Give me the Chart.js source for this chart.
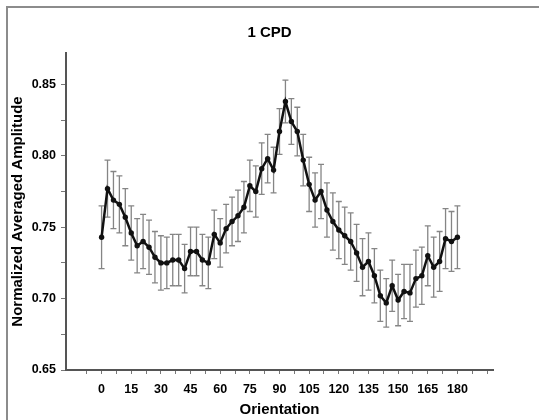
<!DOCTYPE html>
<html>
<head>
<meta charset="utf-8">
<script src="https://cdn.jsdelivr.net/npm/chart.js@4"></script>
<style>
    html, body { margin: 0; padding: 0; background: #fff; overflow: hidden; }
    #wrap { position: relative; width: 539px; height: 420px; }
    #frame { position: absolute; left: 6px; top: 6px; width: 600px; height: 500px; border: 2px solid #8c8c8c; box-sizing: border-box; }
    canvas { position: absolute; left: 0; top: 0; }
</style>
</head>
<body>
<div id="wrap">
    <div id="frame"></div>
    <canvas id="cpdChart" width="539" height="420"></canvas>
</div>
<script>
// orientation in degrees, 3 degree steps
const orientation = [0, 3, 6, 9, 12, 15, 18, 21, 24, 27, 30, 33, 36, 39, 42, 45, 48, 51, 54, 57,
    60, 63, 66, 69, 72, 75, 78, 81, 84, 87, 90, 93, 96, 99, 102, 105, 108, 111, 114, 117,
    120, 123, 126, 129, 132, 135, 138, 141, 144, 147, 150, 153, 156, 159, 162, 165, 168, 171, 174, 177, 180];

const amplitude = [0.743, 0.777, 0.769, 0.766, 0.757, 0.746, 0.737, 0.740, 0.736, 0.729,
    0.725, 0.725, 0.727, 0.727, 0.721, 0.733, 0.733, 0.727, 0.725, 0.745,
    0.739, 0.749, 0.754, 0.758, 0.764, 0.779, 0.775, 0.791, 0.798, 0.790,
    0.817, 0.838, 0.824, 0.817, 0.797, 0.780, 0.769, 0.775, 0.762, 0.754,
    0.748, 0.744, 0.740, 0.732, 0.722, 0.726, 0.716, 0.702, 0.697, 0.709,
    0.699, 0.705, 0.704, 0.714, 0.716, 0.730, 0.722, 0.726, 0.742, 0.740, 0.743];

// standard error for each point
const amplitudeErr = [0.022, 0.020, 0.020, 0.020, 0.020, 0.019, 0.019, 0.019, 0.019, 0.018,
    0.019, 0.018, 0.018, 0.018, 0.017, 0.017, 0.017, 0.018, 0.018, 0.017,
    0.017, 0.017, 0.017, 0.018, 0.018, 0.018, 0.018, 0.018, 0.017, 0.016,
    0.016, 0.015, 0.016, 0.017, 0.018, 0.019, 0.019, 0.019, 0.019, 0.020,
    0.020, 0.020, 0.020, 0.020, 0.020, 0.020, 0.019, 0.018, 0.017, 0.018,
    0.018, 0.019, 0.020, 0.020, 0.020, 0.021, 0.021, 0.021, 0.021, 0.021, 0.022];

const xTicks = [-7.5, 0, 7.5, 15, 22.5, 30, 37.5, 45, 52.5, 60, 67.5, 75, 82.5, 90, 97.5,
    105, 112.5, 120, 127.5, 135, 142.5, 150, 157.5, 165, 172.5, 180, 187.5, 195];
const xLabels = [0, 15, 30, 45, 60, 75, 90, 105, 120, 135, 150, 165, 180];
const yTicks = [0.65, 0.675, 0.70, 0.725, 0.75, 0.775, 0.80, 0.825, 0.85];
const yLabels = [0.65, 0.70, 0.75, 0.80, 0.85];

const FONT = "'Liberation Sans', Arial, sans-serif";
const AXIS = '#555';

// vertical error bars with caps, drawn under the line
const errorBars = {
    id: 'errorBars',
    beforeDatasetsDraw(chart) {
        const ctx = chart.ctx;
        const xs = chart.scales.x, ys = chart.scales.y;
        ctx.save();
        ctx.strokeStyle = '#858585';
        ctx.lineWidth = 1.3;
        orientation.forEach((o, i) => {
            const px = xs.getPixelForValue(o);
            const top = ys.getPixelForValue(amplitude[i] + amplitudeErr[i]);
            const bot = ys.getPixelForValue(amplitude[i] - amplitudeErr[i]);
            ctx.beginPath();
            ctx.moveTo(px, top); ctx.lineTo(px, bot);
            ctx.moveTo(px - 3, top); ctx.lineTo(px + 3, top);
            ctx.moveTo(px - 3, bot); ctx.lineTo(px + 3, bot);
            ctx.stroke();
        });
        ctx.restore();
    }
};

const cpdCtx = document.getElementById('cpdChart').getContext('2d');
const cpdChart = new Chart(cpdCtx, {
    type: 'line',
    data: {
        datasets: [{
            label: '1 CPD',
            data: orientation.map((o, i) => ({ x: o, y: amplitude[i] })),
            borderColor: '#111',
            backgroundColor: '#111',
            borderWidth: 2.5,
            pointRadius: 2.7,
            pointBorderWidth: 0,
            tension: 0,
            fill: false
        }]
    },
    options: {
        responsive: false,
        animation: false,
        layout: { padding: 0 },
        plugins: {
            legend: { display: false },
            tooltip: { enabled: false },
            title: {
                display: true,
                text: '1 CPD',
                color: '#000',
                font: { family: FONT, size: 15, weight: 'bold' },
                padding: { top: 24, bottom: 11 }
            }
        },
        scales: {
            x: {
                type: 'linear',
                min: -18,
                max: 198,
                afterFit(scale) { scale.height = 50; },
                afterBuildTicks(scale) { scale.ticks = xTicks.map(v => ({ value: v })); },
                border: { color: AXIS, width: 2 },
                grid: { drawOnChartArea: false, drawTicks: true, tickLength: 4, color: '#777', lineWidth: 1 },
                ticks: {
                    autoSkip: false,
                    maxRotation: 0,
                    padding: 8,
                    color: '#000',
                    font: { family: FONT, size: 12.5, weight: 'bold' },
                    callback: v => (xLabels.includes(v) ? String(v) : '')
                },
                title: {
                    display: true,
                    text: 'Orientation',
                    color: '#000',
                    font: { family: FONT, size: 15, weight: 'bold' },
                    padding: { top: 0, bottom: 1 }
                }
            },
            y: {
                min: 0.65,
                max: 0.872,
                afterFit(scale) { scale.width = 66; },
                afterBuildTicks(scale) { scale.ticks = yTicks.map(v => ({ value: v })); },
                border: { color: AXIS, width: 2 },
                grid: { drawOnChartArea: false, drawTicks: true, tickLength: 5, color: '#777', lineWidth: 1 },
                ticks: {
                    autoSkip: false,
                    padding: 5,
                    color: '#000',
                    font: { family: FONT, size: 12.5, weight: 'bold' },
                    callback: v => (yLabels.some(l => Math.abs(l - v) < 1e-6) ? v.toFixed(2) : '')
                },
                title: {
                    display: true,
                    text: 'Normalized Averaged Amplitude',
                    color: '#000',
                    font: { family: FONT, size: 15, weight: 'bold' },
                    padding: { top: 9, bottom: 0 }
                }
            },
            // empty right-hand strip so the title stays centred on the whole figure
            yRight: {
                position: 'right',
                min: 0.65,
                max: 0.872,
                afterFit(scale) { scale.width = 46; },
                border: { display: false },
                grid: { display: false },
                ticks: { display: false }
            }
        }
    },
    plugins: [errorBars]
});
</script>
</body>
</html>
